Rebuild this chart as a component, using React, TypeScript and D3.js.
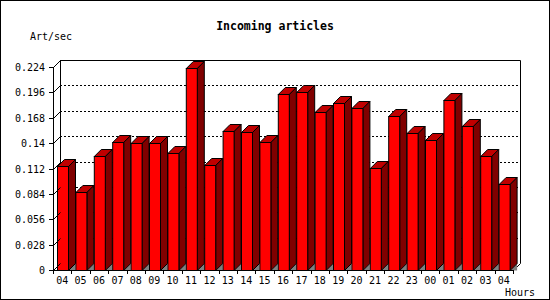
import React from "react";
import * as d3 from "d3";

const hours = ["04","05","06","07","08","09","10","11","12","13","14","15","16","17","18","19","20","21","22","23","00","01","02","03","04"];
const values = [0.115,0.0857,0.126,0.1416,0.1405,0.1405,0.1287,0.2233,0.1159,0.1537,0.1526,0.1416,0.1938,0.1968,0.174,0.184,0.1784,0.1122,0.1696,0.1508,0.1431,0.1876,0.1585,0.1258,0.0947];
const yTicks = [0,0.028,0.056,0.084,0.112,0.14,0.168,0.196,0.224];
const yTickLabels = ["0","0.028","0.056","0.084","0.112","0.14","0.168","0.196","0.224"];

const W = 550, H = 300;
const L = 53, R = 513, T = 67, B = 270, D = 7, BAR_W = 11;
const FONT = "'DejaVu Sans Mono', 'Liberation Mono', monospace";

export default function App() {
  const x = d3.scaleBand<number>().domain(hours.map((_, i) => i)).range([L, R]).paddingInner(0).paddingOuter(0);
  const y = d3.scaleLinear().domain([0, 0.224]).range([B, T]);
  const bw = x.bandwidth();

  return (
    <svg width={W} height={H} style={{ position: "absolute", left: 0, top: 0, display: "block" }} shapeRendering="crispEdges">
      <rect x={0.5} y={0.5} width={W - 1} height={H - 1} fill="#fff" stroke="#000" />
      <text x={275} y={30} textAnchor="middle" fontFamily={FONT} fontWeight="bold" fontSize={11.5} fill="#000">Incoming articles</text>
      <text x={30} y={40} fontFamily={FONT} fontSize={10} fill="#000">Art/sec</text>
      <text x={505} y={296} fontFamily={FONT} fontSize={10} fill="#000">Hours</text>

      {/* back wall gridlines */}
      {yTicks.slice(1, -1).map((t, i) => (
        <line key={"g" + i} x1={L + D} x2={R + D} y1={Math.round(y(t)) - D + 0.5} y2={Math.round(y(t)) - D + 0.5} stroke="#000" strokeDasharray="2,2" />
      ))}
      {/* back wall frame */}
      <path d={`M${L + 0.5},${T + 0.5} L${L + D + 0.5},${T - D + 0.5} L${R + D + 0.5},${T - D + 0.5} L${R + D + 0.5},${B - D + 0.5} L${R + 0.5},${B + 0.5}`} fill="none" stroke="#000" shapeRendering="auto" />
      <line x1={L + D + 0.5} x2={L + D + 0.5} y1={T - D} y2={B - D} stroke="#000" />

      {/* bars */}
      {values.map((v, i) => {
        const x0 = (x(i) as number) + Math.round((bw - BAR_W) / 2) + 0.5;
        const x1 = x0 + BAR_W;
        const yt = Math.round(y(v)) + 0.5;
        const yb = B + 0.5;
        return (
          <g key={"b" + i} stroke="#000" strokeWidth={1} shapeRendering="auto">
            <path d={`M${x1},${yb} L${x1 + D},${yb - D} L${x1 + D},${yb} Z`} fill="#808080" stroke="none" />
            <path d={`M${x0},${yt} L${x0 + D},${yt - D} L${x1 + D},${yt - D} L${x1},${yt} Z`} fill="#c00000" />
            <path d={`M${x1},${yt} L${x1 + D},${yt - D} L${x1 + D},${yb - D} L${x1},${yb} Z`} fill="#800000" />
            <rect x={x0} y={yt} width={BAR_W} height={yb - yt} fill="#ff0000" />
          </g>
        );
      })}

      {/* y axis */}
      <line x1={L + 0.5} x2={L + 0.5} y1={T} y2={B + 1} stroke="#000" />
      {yTicks.map((t, i) => {
        const yy = Math.round(y(t)) + 0.5;
        return (
          <g key={"y" + i}>
            <line x1={L - 4} x2={L + 0.5} y1={yy} y2={yy} stroke="#000" />
            <line x1={L + 0.5} x2={L + D + 0.5} y1={yy} y2={yy - D} stroke="#000" shapeRendering="auto" />
            <text x={45} y={yy + 3.5} textAnchor="end" fontFamily={FONT} fontSize={10} fill="#000">{yTickLabels[i]}</text>
          </g>
        );
      })}

      {/* x axis */}
      <line x1={L} x2={R + 1} y1={B + 0.5} y2={B + 0.5} stroke="#000" />
      {hours.map((h, i) => {
        const xs = Math.round(x(i) as number) + 0.5;
        return (
          <g key={"x" + i}>
            <line x1={xs} x2={xs} y1={B} y2={B + 4} stroke="#000" />
            <text x={(x(i) as number) + bw / 2} y={283.5} textAnchor="middle" fontFamily={FONT} fontSize={10} fill="#000">{h}</text>
          </g>
        );
      })}
      <line x1={R + 0.5} x2={R + 0.5} y1={B} y2={B + 4} stroke="#000" />
    </svg>
  );
}
